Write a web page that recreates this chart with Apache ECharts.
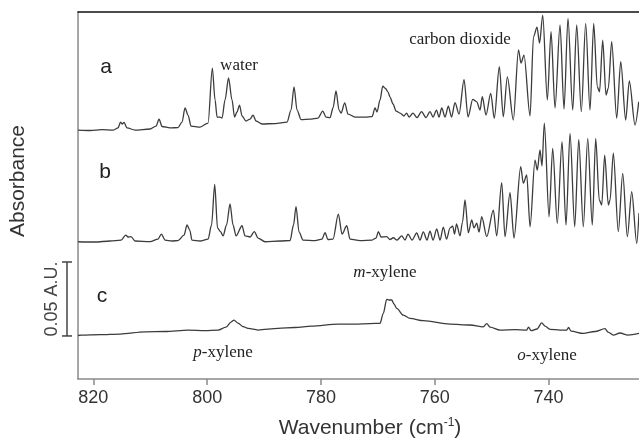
<!DOCTYPE html>
<html><head><meta charset="utf-8">
<script src="https://cdn.jsdelivr.net/npm/echarts@6/dist/echarts.min.js"></script>
<style>html,body{margin:0;padding:0;background:#fff}#c{width:639px;height:440px}</style>
</head><body><div id="c"></div>
<script>
// x range (wavenumber, cm-1), plotted right-to-left
const xRange = [724.1, 822.7];
const wavenumberTicks = [820, 800, 780, 760, 740];
// y in mAU (milli absorbance units); hidden axis
const yRange = [0, 248.1];
const traceNames = ['a', 'b', 'c'];
const traceOffsets = [168.3, 92.8, 29.7];
const scaleBarBottom = 29.1;   // mAU
const scaleBarSize = 50;       // 0.05 A.U.

const traceA = [
[822.69,0],[820.5,-0.3],[818.5,0.3],[816.5,0],[815.66,1.4],[815.22,5.4],[814.96,4.1],[814.61,5.1],[814.08,1.4],[812.67,0],[810.04,0.7],[808.98,2.7],[808.46,7.4],[807.93,2.4],[806.52,1.4],[805.12,1.7],[804.41,5.4],[803.89,14.9],[803.36,10.1],[802.83,2.7],[801.25,2.0],[799.84,4.7],[799.09,41.9],[798.61,20.3],[798.26,8.8],[797.74,8.8],[797.38,8.1],[796.86,20.3],[796.24,35.2],[795.63,20.3],[795.19,8.8],[794.75,12.2],[794.31,16.9],[793.87,9.5],[793.17,6.1],[792.46,7.4],[791.94,10.1],[791.41,6.1],[790.35,4.1],[788.07,4.4],[785.96,5.4],[785.26,13.5],[784.73,29.1],[784.20,13.5],[783.50,7.1],[781.92,7.4],[780.51,8.1],[779.69,12.8],[779.11,8.8],[778.40,8.4],[777.88,14.9],[777.35,26.4],[776.82,13.5],[776.47,11.5],[775.82,18.3],[775.24,10.8],[774.01,8.8],[772.25,8.8],[771.02,9.1],[770.49,14.9],[770.14,12.2],[769.62,20.3],[769.14,29.7],[768.65,28.1],[768.21,25.7],[767.86,22.3],[767.33,17.6],[766.80,12.8],[766.10,11.5],[765.40,9.5],[764.96,11.5],[764.52,8.8],[763.82,11.5],[763.11,8.4],[762.32,12.5],[761.53,8.4],[760.83,12.5],[760.30,8.8],[759.69,13.5],[759.25,8.8],[758.77,14.9],[758.19,8.8],[757.61,16.2],[757.05,8.8],[756.44,18.5],[755.73,10.8],[754.85,34.1],[754.15,8.8],[753.32,20.8],[752.62,19.1],[752.04,13.5],[751.64,22.5],[750.99,10.1],[750.16,24.8],[749.53,7.9],[748.65,42.8],[747.95,9.0],[747.24,36.0],[746.19,6.8],[745.28,54.1],[744.84,45.3],[744.31,50.7],[743.25,9.5],[742.64,63.1],[742.02,69.6],[741.58,58.8],[741.02,77.7],[740.21,20.3],[739.56,66.5],[738.86,14.9],[737.98,71.0],[737.28,14.2],[736.58,75.5],[735.75,13.5],[735.05,71.0],[734.24,12.4],[733.47,72.1],[732.71,13.5],[732.06,72.1],[731.43,29.3],[731.04,25.9],[730.48,60.8],[729.90,23.7],[729.49,28.4],[728.90,59.7],[728.02,7.9],[727.31,46.2],[726.44,6.8],[725.80,33.3],[724.80,3.4],[724.15,19.1]
];

const traceB = [
[822.69,0],[819.70,-0.2],[817.07,0.5],[815.13,1.1],[814.31,4.5],[813.90,3.2],[813.38,3.5],[812.67,0.5],[810.04,0.1],[808.63,1.8],[808.05,5.2],[807.40,1.1],[806.17,0.5],[805.12,0.8],[804.06,4.5],[803.54,11.3],[803.06,7.9],[802.66,1.1],[801.25,0.5],[799.84,1.8],[799.23,11.3],[798.67,38.8],[798.18,9.3],[797.61,6.6],[797.21,3.9],[796.59,11.3],[795.98,25.5],[795.45,11.3],[794.92,3.9],[793.87,10.8],[793.34,3.9],[792.46,3.2],[791.71,6.8],[791.06,2.5],[789.83,0],[787.19,0.5],[785.43,0.8],[784.82,11.3],[784.38,23.7],[783.85,6.6],[783.15,1.1],[781.04,0.8],[779.81,1.8],[779.28,6.1],[778.76,1.5],[777.88,1.8],[776.94,18.7],[776.29,5.2],[775.47,10.8],[774.89,1.8],[773.13,0.8],[771.02,1.1],[770.32,2.5],[769.91,6.8],[769.44,3.2],[768.44,3.4],[767.86,1.5],[767.28,2.7],[766.63,1.1],[765.80,3.9],[765.22,1.1],[764.70,5.2],[763.99,1.1],[763.17,5.9],[762.59,1.1],[762.01,6.6],[761.36,1.1],[760.83,7.2],[760.30,1.1],[759.65,8.6],[759.07,1.1],[758.49,9.9],[757.93,1.8],[757.31,9.3],[756.84,10.6],[756.52,5.2],[756.17,12.0],[755.56,3.9],[755.12,13.3],[754.68,28.2],[754.10,6.1],[753.50,14.7],[753.10,9.3],[752.62,12.6],[752.22,6.6],[751.74,16.9],[750.86,3.4],[749.70,21.4],[749.11,3.9],[748.23,39.9],[747.65,3.4],[746.77,33.1],[746.07,2.5],[744.89,50.7],[744.43,39.5],[743.83,45.1],[743.25,10.1],[742.38,55.2],[741.97,48.5],[741.50,62.0],[741.15,51.2],[740.74,80.2],[739.91,16.9],[739.27,63.1],[738.46,12.4],[737.63,67.6],[736.93,11.3],[736.22,73.3],[735.40,10.1],[734.69,69.2],[733.89,10.1],[733.11,69.9],[732.31,11.3],[731.71,69.9],[731.08,28.2],[730.65,24.8],[730.13,58.6],[729.49,24.8],[729.19,28.2],[728.61,59.8],[727.74,6.8],[726.96,46.2],[726.15,3.4],[725.38,33.8],[724.50,-1.1],[724.10,19.4]
];

const traceC = [
[822.69,-0.3],[822.11,0],[818.83,0.3],[815.31,0.7],[810.97,2.2],[807.40,2.4],[803.36,3.4],[800.37,3.0],[798.09,3.4],[796.68,5.4],[795.80,8.8],[795.28,10.1],[794.57,8.1],[793.69,5.7],[792.81,4.5],[791.06,3.4],[787.54,4.5],[784.56,5.1],[781.69,6.1],[777.00,7.4],[774.01,7.4],[771.37,7.8],[769.62,7.9],[769.04,14.7],[768.44,24.1],[768.03,23.7],[767.56,23.7],[767.16,21.0],[766.68,18.0],[765.52,13.5],[764.34,11.3],[762.01,9.7],[757.31,7.4],[753.80,6.8],[751.46,5.6],[750.86,7.8],[750.28,5.4],[748.53,3.4],[745.89,3.7],[743.83,3.4],[743.52,5.4],[743.08,3.0],[742.02,4.1],[741.20,8.3],[740.62,6.1],[739.74,3.9],[737.98,3.4],[736.80,3.4],[736.49,5.1],[736.05,2.7],[733.89,1.1],[731.83,2.4],[730.07,4.4],[729.55,2.0],[728.61,0],[727.44,1.4],[726.03,0],[724.10,1.1]
];

const traces = [traceA, traceB, traceC];

const chart = echarts.init(document.getElementById('c'), null, {renderer: 'canvas'});
const lineColor = '#3c3c3c';
const axisGray = '#8a8a8a';

const series = traces.map((t, i) => ({
  name: traceNames[i],
  type: 'line',
  showSymbol: false,
  symbol: 'none',
  silent: true,
  smooth: 0.3,
  smoothMonotone: 'x',
  lineStyle: {color: lineColor, width: 1.3},
  data: t.map(p => [p[0], p[1] + traceOffsets[i]])
}));

chart.setOption({
  animation: false,
  backgroundColor: '#fff',
  grid: {left: 78, top: 12, right: 0, bottom: 61},
  xAxis: [{
    type: 'value', inverse: true, min: xRange[0], max: xRange[1], position: 'bottom',
    axisLine: {show: true, lineStyle: {color: axisGray, width: 1.5}},
    axisTick: {show: true, length: 6, inside: false, customValues: wavenumberTicks, lineStyle: {color: axisGray, width: 1.5}},
    axisLabel: {customValues: wavenumberTicks, fontFamily: 'Liberation Sans, Arial, sans-serif', fontSize: 18, color: '#333', margin: 10},
    splitLine: {show: false}
  }, {
    type: 'value', inverse: true, min: xRange[0], max: xRange[1], position: 'top',
    axisLine: {show: true, lineStyle: {color: '#111', width: 1.5}},
    axisTick: {show: false}, axisLabel: {show: false}, splitLine: {show: false}
  }],
  yAxis: {
    type: 'value', min: yRange[0], max: yRange[1],
    axisLine: {show: true, lineStyle: {color: axisGray, width: 1.5}},
    axisTick: {show: false}, axisLabel: {show: false}, splitLine: {show: false}
  },
  series: series
});

const serif = 'Liberation Serif, Times New Roman, serif';
const sans = 'Liberation Sans, Arial, sans-serif';
const yBot = chart.convertToPixel({yAxisIndex: 0}, scaleBarBottom);
const yTop = chart.convertToPixel({yAxisIndex: 0}, scaleBarBottom + scaleBarSize);
const barX = 67;

function txt(x, y, text, font, size, extra) {
  return Object.assign({type: 'text', x: x, y: y, silent: true,
    style: Object.assign({text: text, font: size + 'px ' + font, fill: '#222', align: 'center', verticalAlign: 'middle'}, extra || {})});
}

chart.setOption({
  graphic: [
    {type: 'line', shape: {x1: barX, y1: yTop, x2: barX, y2: yBot}, style: {stroke: '#444', lineWidth: 1.5}},
    {type: 'line', shape: {x1: barX - 5, y1: yTop, x2: barX + 5, y2: yTop}, style: {stroke: '#444', lineWidth: 1.5}},
    {type: 'line', shape: {x1: barX - 5, y1: yBot, x2: barX + 5, y2: yBot}, style: {stroke: '#444', lineWidth: 1.5}},
    Object.assign(txt(52, (yTop + yBot) / 2, '0.05 A.U.', sans, 18, {fill: '#444'}), {rotation: Math.PI / 2}),
    Object.assign(txt(18, 181, 'Absorbance', sans, 21, {fill: '#333'}), {rotation: Math.PI / 2}),
    {type: 'text', x: 370, y: 428, silent: true, style: {
      text: '{m|Wavenumber (cm}{s|-1}{m|)}', align: 'center', verticalAlign: 'middle',
      rich: {m: {fontFamily: sans, fontSize: 21, fill: '#333', lineHeight: 24},
             s: {fontFamily: sans, fontSize: 12, fill: '#333', lineHeight: 24, padding: [0, 0, 10, 0]}}
    }},
    txt(106, 67, 'a', sans, 21, {fill: '#222'}),
    txt(105, 172, 'b', sans, 21, {fill: '#222'}),
    txt(102, 296, 'c', sans, 21, {fill: '#222'}),
    txt(239, 66, 'water', serif, 17),
    txt(460, 40, 'carbon dioxide', serif, 17),
    {type: 'text', x: 385, y: 273, silent: true, style: {text: '{i|m}{n|-xylene}', align: 'center', verticalAlign: 'middle',
      rich: {i: {fontFamily: serif, fontSize: 17, fontStyle: 'italic', fill: '#222'}, n: {fontFamily: serif, fontSize: 17, fill: '#222'}}}},
    {type: 'text', x: 223, y: 353, silent: true, style: {text: '{i|p}{n|-xylene}', align: 'center', verticalAlign: 'middle',
      rich: {i: {fontFamily: serif, fontSize: 17, fontStyle: 'italic', fill: '#222'}, n: {fontFamily: serif, fontSize: 17, fill: '#222'}}}},
    {type: 'text', x: 547, y: 356, silent: true, style: {text: '{i|o}{n|-xylene}', align: 'center', verticalAlign: 'middle',
      rich: {i: {fontFamily: serif, fontSize: 17, fontStyle: 'italic', fill: '#222'}, n: {fontFamily: serif, fontSize: 17, fill: '#222'}}}}
  ]
});
</script></body></html>
